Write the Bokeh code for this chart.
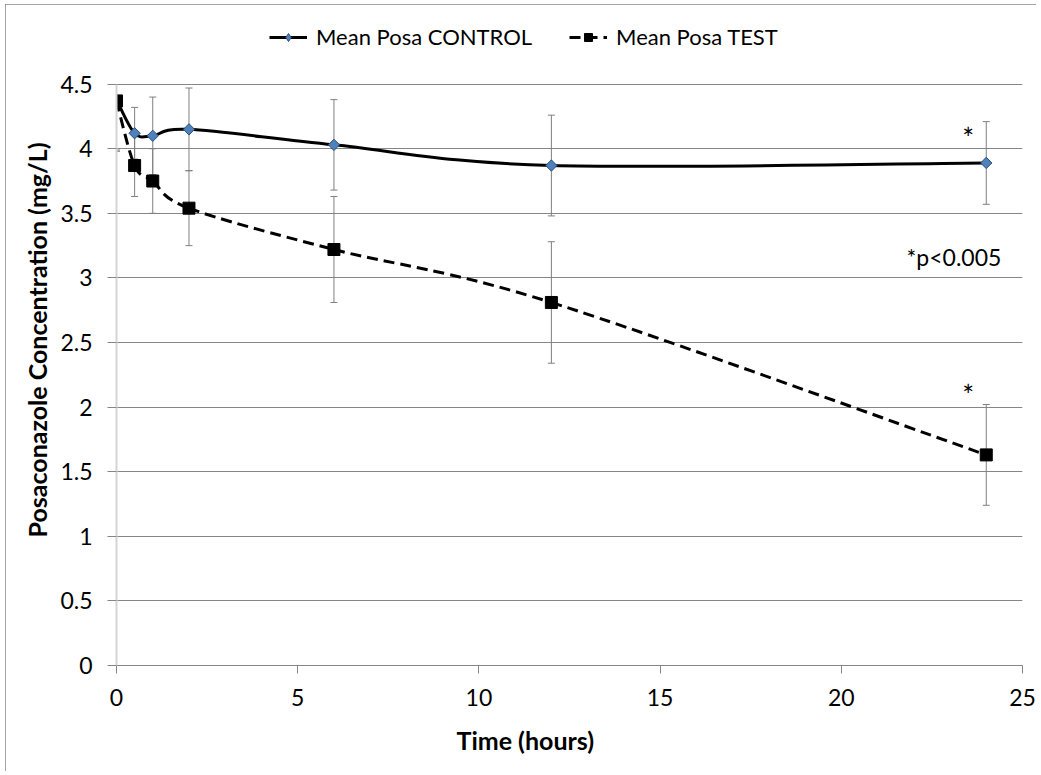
import numpy as np
from bokeh.plotting import figure
from bokeh.models import (ColumnDataSource, Legend, LegendItem, Title, Range1d,
                          FixedTicker)
from bokeh.core.properties import value
from bokeh.embed import file_html
from bokeh.resources import INLINE

# ---- data ----
time_h = [0, 0.5, 1, 2, 6, 12, 24]
control_mean = [4.38, 4.12, 4.10, 4.15, 4.03, 3.87, 3.89]
control_err = [0.40, 0.20, 0.30, 0.32, 0.35, 0.39, 0.32]
test_mean = [4.37, 3.87, 3.75, 3.54, 3.22, 2.81, 1.63]
test_err = [0.38, 0.24, 0.25, 0.29, 0.41, 0.47, 0.39]
x_ticks = [0, 5, 10, 15, 20, 25]
y_ticks = [0, 0.5, 1, 1.5, 2, 2.5, 3, 3.5, 4, 4.5]

FONT = "Lato"
GRID = "#868686"

# frame extends above 4.5 to host the legend; axis line limited to 0..4.5
p = figure(width=1031, height=767, output_backend="svg", toolbar_location=None,
           x_range=Range1d(0, 25), y_range=Range1d(0, 5.039),
           min_border_left=111, min_border_right=14, min_border_top=10,
           min_border_bottom=106)
p.outline_line_color = None
p.background_fill_color = "white"
p.border_fill_color = "white"
p.styles = {"margin-left": "5px", "margin-top": "4px",
            "outline": "1px solid #868686", "outline-offset": "-1px"}

# axes
p.xaxis.ticker = FixedTicker(ticks=x_ticks)
p.yaxis.ticker = FixedTicker(ticks=y_ticks)
p.yaxis.bounds = (0, 4.5)
p.yaxis.formatter.use_scientific = False
for ax in (p.xaxis[0], p.yaxis[0]):
    ax.major_label_text_font = FONT
    ax.major_label_text_font_size = "23px"
    ax.major_label_text_color = "black"
    ax.minor_tick_line_color = None
    ax.major_tick_in = 0
    ax.major_tick_line_color = GRID
    ax.major_label_standoff = 15
p.xaxis.major_tick_out = 8
p.yaxis.major_tick_out = 9
p.xaxis.axis_line_color = GRID
p.yaxis.axis_line_color = "#d4d4d4"
p.yaxis.axis_line_width = 2
p.yaxis.axis_label = "Posaconazole Concentration (mg/L)"
p.yaxis.axis_label_text_font = FONT
p.yaxis.axis_label_text_font_style = "bold"
p.yaxis.axis_label_text_font_size = "25px"
p.yaxis.axis_label_text_color = "black"
p.yaxis.axis_label_standoff = 5

p.xgrid.grid_line_color = None
p.ygrid.grid_line_color = GRID
p.ygrid.grid_line_width = 1

xt = Title(text="Time (hours)", align="left", offset=340, standoff=28,
           text_font=FONT, text_font_size="25px", text_font_style="bold",
           text_color="black")
p.add_layout(xt, "below")


# ---- smooth curve (Bezier through the data points) ----
def bezier_source(xs, ys):
    xs = np.asarray(xs, float)
    ys = np.asarray(ys, float)
    n = len(xs)
    d = dict(x0=[], y0=[], x1=[], y1=[], cx0=[], cy0=[], cx1=[], cy1=[])
    for i in range(n - 1):
        im1 = max(i - 1, 0)
        ip2 = min(i + 2, n - 1)
        d["x0"].append(xs[i]); d["y0"].append(ys[i])
        d["x1"].append(xs[i + 1]); d["y1"].append(ys[i + 1])
        d["cx0"].append(xs[i] + (xs[i + 1] - xs[im1]) / 6)
        d["cy0"].append(ys[i] + (ys[i + 1] - ys[im1]) / 6)
        d["cx1"].append(xs[i + 1] - (xs[ip2] - xs[i]) / 6)
        d["cy1"].append(ys[i + 1] - (ys[ip2] - ys[i]) / 6)
    return ColumnDataSource(d)


ERR = "#7f7f7f"


def errorbars(mean, err):
    # error bars end at the top of the value axis (4.5), as in the original
    src = ColumnDataSource(dict(x=time_h,
                                lo=[m - e for m, e in zip(mean, err)],
                                hi=[min(m + e, y_ticks[-1]) for m, e in zip(mean, err)],
                                cap_hi=[m + e if m + e <= y_ticks[-1] else np.nan
                                        for m, e in zip(mean, err)]))
    p.segment(x0="x", y0="lo", x1="x", y1="hi", source=src,
              line_color=ERR, line_width=1)
    p.scatter(x="x", y="lo", source=src, marker="dash", size=7,
              line_color=ERR, line_width=1)
    p.scatter(x="x", y="cap_hi", source=src, marker="dash", size=7,
              line_color=ERR, line_width=1)


errorbars(control_mean, control_err)
errorbars(test_mean, test_err)

ctrl_line = p.bezier(x0="x0", y0="y0", x1="x1", y1="y1", cx0="cx0", cy0="cy0",
                     cx1="cx1", cy1="cy1", source=bezier_source(time_h, control_mean),
                     line_color="black", line_width=3)
test_line = p.bezier(x0="x0", y0="y0", x1="x1", y1="y1", cx0="cx0", cy0="cy0",
                     cx1="cx1", cy1="cy1", source=bezier_source(time_h, test_mean),
                     line_color="black", line_width=3, line_dash="11 6")

ctrl_pts = p.scatter(x=time_h, y=control_mean, marker="square", angle=np.pi / 4,
                     size=8, fill_color="#4f81bd", line_color="#2c4d75",
                     line_width=1)
# diamond used for the legend swatch only (legend swatches ignore angle)
ctrl_key = p.scatter(x=time_h, y=control_mean, marker="diamond", size=11,
                     fill_color="#4f81bd", line_color="#2c4d75", line_width=1,
                     visible=False)
test_pts = p.scatter(x=time_h, y=test_mean, marker="square", size=12,
                     fill_color="black", line_color="black")

# annotations
star_font = dict(text_font=value(FONT), text_font_size="28px", text_color="black")
p.text(x=[23.5], y=[4.08], text=["*"], text_align="center",
       text_baseline="alphabetic", **star_font)
p.text(x=[23.5], y=[2.09], text=["*"], text_align="center",
       text_baseline="alphabetic", **star_font)
p.text(x=[21.8], y=[3.16], text=["*p<0.005"], text_align="left",
       text_baseline="middle", text_font=value(FONT), text_font_size="23px",
       text_color="black")

legend = Legend(items=[
    LegendItem(label="Mean Posa CONTROL", renderers=[ctrl_line, ctrl_key]),
    LegendItem(label="Mean Posa TEST", renderers=[test_line, test_pts]),
], orientation="horizontal", location=(153, 615), padding=0, margin=0,
    spacing=37, glyph_width=38, glyph_height=20, label_standoff=9,
    label_text_font=FONT, label_text_font_size="22px", label_text_color="black",
    border_line_color=None, background_fill_alpha=0)
p.add_layout(legend)

open("out.html", "w").write(file_html(p, INLINE))
